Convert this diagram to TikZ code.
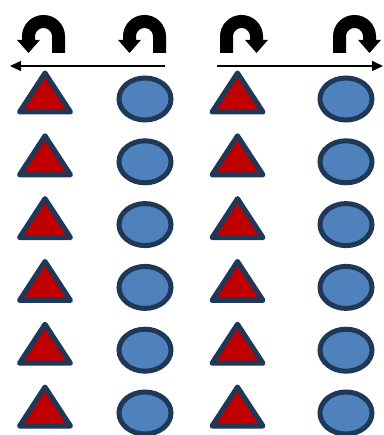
\documentclass[tikz,border=0pt]{standalone}
\usepackage{tikz}
\usetikzlibrary{positioning,shapes,arrows.meta}
\definecolor{navyedge}{RGB}{31,56,88}
\definecolor{redfill}{RGB}{192,0,0}
\definecolor{bluefill}{RGB}{79,129,189}
\tikzstyle{redtri}=[isosceles triangle, shape border rotate=90, isosceles triangle stretches,
        draw=navyedge, fill=redfill, line width=5pt, line join=round,
        minimum width=51pt, minimum height=39pt, inner sep=0pt, anchor=south]
\tikzstyle{blueoval}=[ellipse, draw=navyedge, fill=bluefill, line width=5pt,
        minimum width=52pt, minimum height=42pt, inner sep=0pt]
\tikzstyle{flowarrow}=[-{Triangle[length=11pt,width=10pt]}, line width=1.5pt]
\tikzstyle{turnarrow}=[-{Triangle[length=13pt,width=22pt]}, line width=13pt]

\begin{document}
\begin{tikzpicture}[x=1pt,y=1pt]
	\useasboundingbox (0,0) rectangle (383,-435);

	\foreach \r in {0,...,5}{
		\node (tri-\r-1) [redtri] at (45,{-114.5-62.8*\r}) {};
		\node (oval-\r-2) [blueoval] at (145,{-99-62.8*\r}) {};
		\node (tri-\r-3) [redtri] at (237.5,{-114.5-62.8*\r}) {};
		\node (oval-\r-4) [blueoval] at (346,{-99-62.8*\r}) {};
	}

	\coordinate (leftfrom) at (165,-66);
	\coordinate (leftto) at (10,-66);
	\coordinate (rightfrom) at (217,-66);
	\coordinate (rightto) at (383,-66);

	\coordinate (turn1from) at (58.5,-53);
	\coordinate (turn1to) at (28.5,-53);
	\coordinate (turn2from) at (159.5,-53);
	\coordinate (turn2to) at (129.5,-53);
	\coordinate (turn3from) at (226.5,-53);
	\coordinate (turn3to) at (256.5,-53);
	\coordinate (turn4from) at (339.5,-53);
	\coordinate (turn4to) at (369.5,-53);

\draw[flowarrow] (leftfrom) -- (leftto);
\draw[flowarrow] (rightfrom) -- (rightto);

\draw[turnarrow] (turn1from) -- ++(0,16.5) arc[start angle=0,end angle=180,radius=15pt] -- (turn1to);
\draw[turnarrow] (turn2from) -- ++(0,16.5) arc[start angle=0,end angle=180,radius=15pt] -- (turn2to);
\draw[turnarrow] (turn3from) -- ++(0,16.5) arc[start angle=180,end angle=0,radius=15pt] -- (turn3to);
\draw[turnarrow] (turn4from) -- ++(0,16.5) arc[start angle=180,end angle=0,radius=15pt] -- (turn4to);

\end{tikzpicture}
\end{document}
